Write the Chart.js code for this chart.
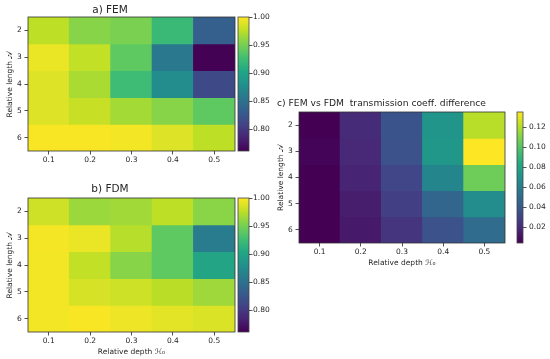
<!DOCTYPE html>
<html lang="en">
<head>
  <meta charset="UTF-8">
  <script src="https://cdn.jsdelivr.net/npm/chart.js"></script>
  <title>FEM vs FDM</title>
  <style>
    body { margin: 0; background: #fff; }
    .stage { position: relative; width: 550px; height: 359px; }
    .stage canvas { position: absolute; left: 0; top: 0; }
  </style>
</head>
<body>
  <div class="stage">
    <canvas id="mapA" width="550" height="359"></canvas>
    <canvas id="barA" width="550" height="359"></canvas>
    <canvas id="mapB" width="550" height="359"></canvas>
    <canvas id="barB" width="550" height="359"></canvas>
    <canvas id="mapC" width="550" height="359"></canvas>
    <canvas id="barC" width="550" height="359"></canvas>
  </div>

<script>
  // datos
  const depths = ['0.1', '0.2', '0.3', '0.4', '0.5'];
  const lengths = [2, 3, 4, 5, 6];

  // filas = longitud relativa 2..6, columnas = profundidad 0.1..0.5
  const femValues = [
    [0.976, 0.957, 0.952, 0.921, 0.833],
    [0.993, 0.978, 0.940, 0.857, 0.762],
    [0.988, 0.969, 0.924, 0.876, 0.814],
    [0.988, 0.980, 0.967, 0.957, 0.940],
    [0.998, 0.998, 0.996, 0.988, 0.976]
  ];
  const fdmValues = [
    [0.983, 0.964, 0.966, 0.976, 0.958],
    [0.997, 0.993, 0.974, 0.940, 0.859],
    [0.996, 0.978, 0.957, 0.940, 0.900],
    [0.996, 0.985, 0.982, 0.975, 0.965],
    [0.996, 0.998, 0.994, 0.990, 0.987]
  ];
  const diffValues = [
    [0.004, 0.020, 0.038, 0.072, 0.121],
    [0.005, 0.019, 0.037, 0.073, 0.135],
    [0.004, 0.017, 0.031, 0.063, 0.106],
    [0.004, 0.0145, 0.028, 0.047, 0.067],
    [0.004, 0.013, 0.024, 0.037, 0.050]
  ];

  const fdRange = [0.761, 1.0];
  const diffRange = [0.004, 0.135];
  const fdTicks = [0.80, 0.85, 0.90, 0.95, 1.00];
  const diffTicks = [0.02, 0.04, 0.06, 0.08, 0.10, 0.12];

  const viridis = ['#440154', '#482475', '#414487', '#355f8d', '#2a788e', '#21918c',
                   '#22a884', '#44bf70', '#7ad151', '#bddf26', '#fde725'];

  const W = 550, H = 359;
  const fuente = 'DejaVu Sans';
  const tinta = '#262626';

  function hexRgb(h) {
    return [parseInt(h.substr(1, 2), 16), parseInt(h.substr(3, 2), 16), parseInt(h.substr(5, 2), 16)];
  }

  function colorViridis(v, rango) {
    let t = (v - rango[0]) / (rango[1] - rango[0]);
    t = Math.max(0, Math.min(1, t)) * (viridis.length - 1);
    const i = Math.min(Math.floor(t), viridis.length - 2);
    const f = t - i;
    const a = hexRgb(viridis[i]), b = hexRgb(viridis[i + 1]);
    const c = a.map((x, k) => Math.round(x + (b[k] - x) * f));
    return `rgb(${c[0]},${c[1]},${c[2]})`;
  }

  // marco alrededor del area del grafico + titulo del panel
  const marco = {
    id: 'marco',
    afterDatasetsDraw(chart, args, opts) {
      const { ctx, chartArea: ca } = chart;
      ctx.save();
      ctx.strokeStyle = opts.color || '#333';
      ctx.lineWidth = 0.8;
      ctx.strokeRect(ca.left, ca.top, ca.right - ca.left, ca.bottom - ca.top);
      if (opts.text) {
        ctx.fillStyle = tinta;
        ctx.font = `${opts.size}px "${fuente}"`;
        ctx.textAlign = opts.align || 'center';
        ctx.textBaseline = 'middle';
        ctx.fillText(opts.text, opts.x, opts.y);
      }
      ctx.restore();
    }
  };

  function mapa(id, valores, rango, caja, textos) {
    const datasets = lengths.map((len, r) => ({
      data: depths.map(() => [len - 0.5, len + 0.5]),
      backgroundColor: valores[r].map(v => colorViridis(v, rango)),
      borderWidth: 0,
      grouped: false,
      inflateAmount: 0.5,
      barPercentage: 1,
      categoryPercentage: 1
    }));

    return new Chart(document.getElementById(id), {
      type: 'bar',
      data: { labels: depths, datasets: datasets },
      plugins: [marco],
      options: {
        responsive: false,
        animation: false,
        events: [],
        layout: {
          padding: {
            left: caja.l - caja.yw,
            right: W - caja.r,
            top: caja.t,
            bottom: H - caja.b - caja.xh
          }
        },
        plugins: {
          legend: { display: false },
          tooltip: { enabled: false },
          marco: { text: textos.titulo, x: textos.tx, y: textos.ty, align: textos.align, size: textos.size }
        },
        scales: {
          x: {
            grid: { display: true, drawOnChartArea: false, offset: false, tickLength: 3.5, color: tinta, lineWidth: 0.8 },
            border: { display: false },
            ticks: { color: tinta, font: { family: fuente, size: 7.5 }, padding: 1, maxRotation: 0 },
            title: {
              display: !!textos.xTitulo,
              text: textos.xTitulo,
              color: tinta,
              font: { family: fuente, size: 7.5 },
              padding: { top: 0, bottom: textos.xPad || 0 }
            },
            afterFit(s) { s.height = caja.xh; }
          },
          y: {
            type: 'linear',
            reverse: true,
            min: 1.5,
            max: 6.5,
            afterBuildTicks(s) { s.ticks = lengths.map(v => ({ value: v })); },
            grid: { display: true, drawOnChartArea: false, tickLength: 3.5, color: tinta, lineWidth: 0.8 },
            border: { display: false },
            ticks: { color: tinta, font: { family: fuente, size: 7.5 }, padding: 2.8 },
            title: {
              display: true,
              text: 'Relative length 𝒜',
              color: tinta,
              font: { family: fuente, size: 7.5 },
              padding: { top: textos.yPad, bottom: 0 }
            },
            afterFit(s) { s.width = caja.yw; }
          }
        }
      }
    });
  }

  function barra(id, rango, marcas, caja, pad) {
    return new Chart(document.getElementById(id), {
      type: 'bar',
      data: {
        labels: [''],
        datasets: [{
          data: [rango],
          borderWidth: 0,
          barPercentage: 1,
          categoryPercentage: 1,
          backgroundColor(c) {
            const ca = c.chart.chartArea;
            if (!ca) return viridis[5];
            const g = c.chart.ctx.createLinearGradient(0, ca.bottom, 0, ca.top);
            viridis.forEach((col, i) => g.addColorStop(i / (viridis.length - 1), col));
            return g;
          }
        }]
      },
      plugins: [marco],
      options: {
        responsive: false,
        animation: false,
        events: [],
        layout: {
          padding: { left: caja.l, right: W - caja.r - 40, top: caja.t, bottom: H - caja.b }
        },
        plugins: {
          legend: { display: false },
          tooltip: { enabled: false },
          marco: { color: '#444' }
        },
        scales: {
          x: { display: false },
          y: {
            position: 'right',
            min: rango[0],
            max: rango[1],
            afterBuildTicks(s) { s.ticks = marcas.map(v => ({ value: v })); },
            grid: { display: true, drawOnChartArea: false, tickLength: 3.5, color: tinta, lineWidth: 0.8 },
            border: { display: false },
            ticks: {
              color: tinta,
              font: { family: fuente, size: 7.5 },
              padding: pad,
              callback: v => v.toFixed(2)
            },
            afterFit(s) { s.width = 40; }
          }
        }
      }
    });
  }

  mapa('mapA', femValues, fdRange,
    { l: 28, t: 17, r: 235, b: 151, yw: 28, xh: 20 },
    { titulo: 'a) FEM', tx: 110, ty: 10, size: 10.5, yPad: 5.5 });
  barra('barA', fdRange, fdTicks, { l: 238, t: 17, r: 249, b: 151 }, 0.5);

  mapa('mapB', fdmValues, fdRange,
    { l: 28, t: 198, r: 235, b: 332, yw: 28, xh: 27 },
    { titulo: 'b) FDM', tx: 110, ty: 189, size: 10.5, yPad: 5.5, xTitulo: 'Relative depth ℋ₀', xPad: 2.5 });
  barra('barB', fdRange, fdTicks, { l: 238, t: 198, r: 249, b: 332 }, 0.5);

  mapa('mapC', diffValues, diffRange,
    { l: 299, t: 112, r: 505, b: 243, yw: 29, xh: 26 },
    { titulo: 'c) FEM vs FDM  transmission coeff. difference', tx: 277, ty: 104, align: 'left', size: 9.2,
      yPad: 6.2, xTitulo: 'Relative depth ℋ₀', xPad: 1.5 });
  barra('barC', diffRange, diffTicks, { l: 517, t: 112, r: 523, b: 243 }, 2.5);
</script>
</body>
</html>
